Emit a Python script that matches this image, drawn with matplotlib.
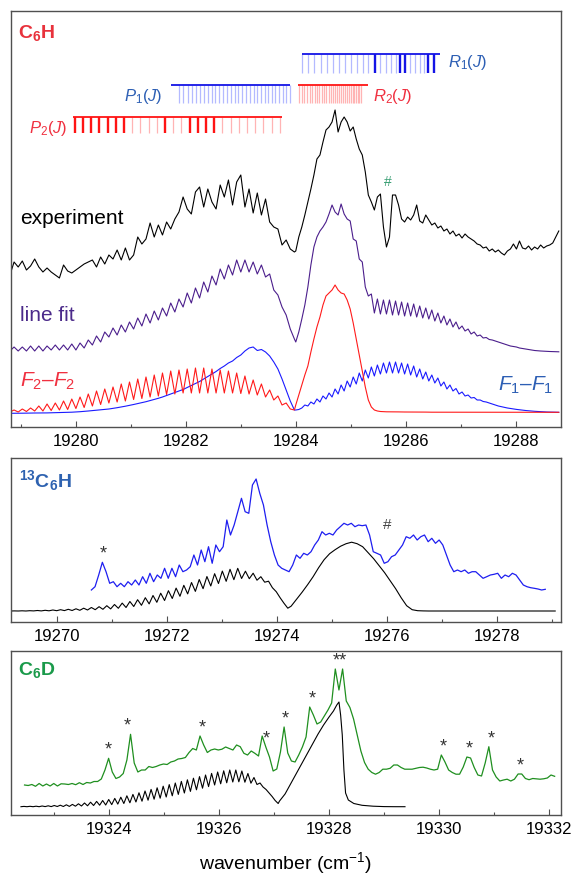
import numpy as np
import matplotlib.pyplot as plt
from matplotlib.ticker import MultipleLocator, FormatStrFormatter

plt.rcParams['font.family'] = ['Liberation Sans', 'DejaVu Sans']
plt.rcParams['mathtext.fontset'] = 'custom'
plt.rcParams['mathtext.rm'] = 'Liberation Sans'
plt.rcParams['mathtext.it'] = 'Liberation Sans:italic'
plt.rcParams['mathtext.bf'] = 'Liberation Sans:bold'

# ---------------- C6H panel (intensities in arbitrary units) ----------------
# sampling: P side every 0.075 cm-1, R side every 0.055 cm-1
c6h_wn = np.concatenate([19278.8 + 0.075 * np.arange(70), 19284.0 + 0.055 * np.arange(88)])

c6h_exp = [152, 165, 160, 166, 157, 161, 168, 160, 155, 159,
           155, 152, 149, 162, 156, 154, 157, 160, 163, 165,
           167, 160, 170, 163, 172, 168, 177, 167, 179, 167,
           172, 190, 183, 188, 204, 190, 202, 192, 205, 198,
           208, 215, 230, 218, 213, 235, 240, 220, 238, 225,
           218, 242, 230, 247, 222, 245, 252, 220, 238, 214,
           234, 212, 228, 205, 200, 198, 182, 187, 178, 175,
           176, 190, 200, 212, 225, 238, 252, 268, 272, 285,
           297, 300, 305, 317, 295, 305, 310, 305, 296, 300,
           288, 278, 272, 255, 232, 225, 217, 230, 233, 200,
           180, 190, 232, 232, 222, 208, 205, 210, 207, 212,
           222, 206, 204, 212, 207, 202, 204, 199, 201, 196,
           198, 193, 196, 191, 193, 189, 193, 190, 188, 186,
           183, 182, 179, 180, 176, 178, 175, 177, 174, 172,
           176, 178, 183, 178, 186, 179, 178, 181, 177, 180,
           178, 182, 179, 181, 182, 184, 190, 196]

c6h_fit = [76, 80, 76, 80, 76, 81, 76, 81, 76, 81,
           77, 82, 77, 82, 77, 83, 77, 84, 79, 87,
           82, 91, 85, 95, 90, 99, 92, 102, 95, 105,
           98, 109, 101, 113, 104, 116, 107, 119, 111, 124,
           115, 128, 120, 134, 124, 139, 129, 145, 135, 151,
           142, 158, 148, 162, 152, 167, 155, 167, 155, 165,
           153, 162, 150, 153, 137, 132, 120, 112, 98, 88,
           85, 95, 108, 122, 140, 162, 180, 190, 196, 200,
           205, 213, 222, 215, 212, 223, 213, 208, 206, 188,
           186, 168, 165, 140, 131, 133, 114, 128, 113, 127,
           113, 127, 112, 126, 112, 125, 111, 124, 111, 123,
           110, 121, 109, 119, 108, 117, 106, 114, 104, 111,
           102, 108, 100, 105, 98, 101, 96, 98, 93, 95,
           91, 92, 89, 89.5, 87.5, 87, 86, 85, 84, 83,
           82, 81, 80.5, 80, 79, 78.5, 78, 77.5, 77, 76.5,
           76.2, 76, 75.8, 75.6, 75.5, 75.4, 75.3, 75.2]

c6h_f2f2 = [15, 17, 15, 18, 15.5, 19, 16, 21, 16, 23,
            16.5, 24, 17, 26, 17.5, 28, 18.5, 30, 19.5, 33,
            21, 36, 22.5, 38, 24, 40, 25, 43, 26, 45,
            27.5, 48, 28.5, 50, 30, 52, 31, 54, 32.5, 56,
            33, 57, 34, 58, 34, 59, 34, 59, 34, 58,
            34, 57, 34, 56, 34, 54, 33.5, 51, 33, 47,
            32, 43, 30, 37, 27, 31, 22, 24, 18, 17,
            22, 32, 42, 52, 61, 75, 88, 100, 110, 122,
            131, 134, 137, 142, 137, 134, 133, 127, 118, 104,
            88, 72, 56, 40, 27, 20, 17, 16, 15.5, 15.3,
            15.2, 15.2, 15.1, 15.1, 15.1, 15.0, 15.0, 15.0, 15.0, 14.9,
            14.9, 14.9, 14.9, 14.9, 14.8, 14.8, 14.8, 14.8, 14.8, 14.8,
            14.8, 14.8, 14.8, 14.8, 14.8, 14.8, 14.8, 14.8, 14.8, 14.8,
            14.7, 14.7, 14.7, 14.7, 14.7, 14.7, 14.7, 14.7, 14.7, 14.7,
            14.7, 14.7, 14.7, 14.7, 14.7, 14.7, 14.7, 14.7, 14.7, 14.7,
            14.7, 14.7, 14.7, 14.7, 14.7, 14.7, 14.7, 14.7]

c6h_f1f1 = [13.7, 13.7, 13.8, 13.8, 13.9, 13.9, 14.0, 14.0, 14.1, 14.1,
            14.2, 14.3, 14.4, 14.5, 14.6, 14.8, 15.0, 15.3, 15.6, 16.0,
            16.4, 16.8, 17.2, 17.6, 18.0, 18.6, 19.3, 20.0, 20.8, 21.6,
            22.5, 23.4, 24.3, 25.3, 26.4, 27.5, 28.7, 30.0, 31.5, 33.0,
            34.5, 36.0, 37.5, 39.5, 41.5, 43.5, 45.5, 48, 50.5, 53,
            55.5, 58.5, 61, 64, 66, 69.5, 72, 76, 79, 80,
            76.5, 77.5, 75, 71, 65, 58, 48, 37, 26, 17,
            17, 17.5, 19, 22, 21, 25, 23, 28, 25, 31,
            28, 34, 30, 38, 33, 42, 36, 46, 40, 50,
            43, 54, 46, 57, 49, 60, 51, 62, 53, 64,
            54, 65, 54, 65, 54, 64, 53, 63, 52, 61,
            50, 58, 48, 55, 46, 52, 44, 49, 41, 45,
            38, 42, 36, 38.5, 33, 35, 31, 32, 29, 29.5,
            27, 27, 25.5, 25, 24, 23, 22, 21, 20.3, 19.7,
            19, 18.5, 18, 17.6, 17.2, 16.8, 16.5, 16.2, 16, 15.7,
            15.5, 15.3, 15.1, 15, 14.9, 14.8, 14.7, 14.7]

# line positions of the assigned branches (cm-1)
r1_lines = [19284.12, 19284.23, 19284.34, 19284.45, 19284.56, 19284.67, 19284.78,
            19284.89, 19285.00, 19285.11, 19285.22, 19285.32, 19285.44, 19285.54,
            19285.64, 19285.74, 19285.83, 19285.89, 19285.98, 19286.08, 19286.17,
            19286.26, 19286.34, 19286.41, 19286.52]
r1_strong = [12, 17, 18, 23, 24]
r2_lines = [19284.061, 19284.110, 19284.158, 19284.205, 19284.252, 19284.298,
            19284.343, 19284.387, 19284.431, 19284.474, 19284.516, 19284.558,
            19284.598, 19284.638, 19284.678, 19284.716, 19284.754, 19284.791,
            19284.827, 19284.864, 19284.898, 19284.933, 19284.967, 19285.000,
            19285.033, 19285.066, 19285.096, 19285.127, 19285.158, 19285.189]
p1_lines = [19281.881, 19281.956, 19282.031, 19282.105, 19282.178, 19282.251,
            19282.324, 19282.396, 19282.467, 19282.538, 19282.609, 19282.680,
            19282.751, 19282.820, 19282.889, 19282.958, 19283.028, 19283.097,
            19283.164, 19283.231, 19283.299, 19283.366, 19283.433, 19283.499,
            19283.564, 19283.630, 19283.695, 19283.761, 19283.826, 19283.892]
p2_lines = [19279.980, 19280.129, 19280.278, 19280.428, 19280.577, 19280.726,
            19280.875, 19281.024, 19281.174, 19281.323, 19281.472, 19281.621,
            19281.770, 19281.920, 19282.069, 19282.218, 19282.367, 19282.516,
            19282.666, 19282.815, 19282.964, 19283.113, 19283.262, 19283.412,
            19283.561, 19283.710]
p2_strong = [0, 1, 2, 3, 4, 5, 6, 11, 14, 15, 16, 17]

# ---------------- 13C6H panel ----------------
c13_fit_wn = np.concatenate([19269.15 + 0.07 * np.arange(73), 19274.25 + 0.1 * np.arange(49)])
c13_fit = [10.7, 10.8, 10.7, 10.9, 10.7, 11.0, 10.8, 11.2, 10.8, 11.4,
           10.9, 11.7, 11.0, 12.0, 11.1, 12.4, 11.2, 12.9, 11.4, 13.5,
           11.7, 14.2, 12.0, 15.0, 12.4, 16.0, 12.8, 17.2, 13.4, 18.6,
           14.2, 20.2, 15.2, 22.0, 16.4, 24.0, 17.8, 26.2, 19.4, 28.5,
           21.2, 31.0, 23.2, 33.6, 25.4, 36.4, 27.8, 39.2, 30.3, 42.2,
           33.0, 45.2, 35.7, 48.0, 38.2, 50.6, 40.4, 52.4, 42.0, 53.4,
           43.2, 50.5, 43.0, 48.5, 41.5, 45.0, 39.5, 40.5, 34.0, 30.0,
           24.0, 18.5, 13.5,
           15.5, 22.5, 29.5, 37, 45, 54, 62, 68, 72, 75.5,
           78, 79.5, 78, 75, 69, 63, 56, 49, 41, 33,
           24, 16, 12, 11, 10.8, 10.7, 10.7, 10.7, 10.7, 10.7,
           10.7, 10.7, 10.7, 10.7, 10.7, 10.7, 10.7, 10.7, 10.7, 10.7,
           10.7, 10.7, 10.7, 10.7, 10.7, 10.7, 10.7, 10.7, 10.7]

c13_exp_wn = np.linspace(19270.62, 19278.87, 125)
c13_exp = [31.7, 35, 46.7, 59.4, 50, 38.4, 40, 35, 38.4, 35,
           40, 36.7, 41.7, 36.7, 45, 38.4, 48.4, 40, 46.7, 43.4,
           53.4, 43.4, 53.4, 45, 56.7, 50, 51.7, 55, 66.7, 56.7,
           71.7, 60, 75, 58.4, 76.7, 70, 75, 101.7, 86.7, 96.7,
           110, 123.4, 110, 108.4, 136.7, 142.7, 128.4, 116.7, 96.7, 80,
           66.7, 56.7, 53.4, 51.7, 50, 56.7, 66.7, 63.4, 68.4, 66.7,
           70, 76.7, 81.7, 90, 86.7, 88.4, 86.7, 91.7, 95, 98.4,
           96.7, 98.4, 95, 96.7, 96, 96.7, 86.7, 70, 68.4, 66.7,
           58.4, 60, 65, 66.7, 71.7, 76.7, 85, 83.4, 86.7, 81.7,
           85, 86.7, 80, 83.4, 78.4, 81.7, 76.7, 66.7, 56.7, 50,
           51.7, 50, 51.7, 48.4, 50, 50, 46.7, 43.4, 45, 46.7,
           47.4, 48.4, 43.4, 46.7, 45, 48.4, 46.7, 41.7, 36.7, 35,
           34, 33.4, 32.7, 31.7, 32.4]

# ---------------- C6D panel ----------------
c6d_exp_wn = np.linspace(19322.465, 19332.10, 146)
c6d_exp = [30, 29.5, 30.5, 28.7, 31.5, 29, 31, 29, 31.5, 29,
           31.2, 31, 30.5, 31.5, 30.3, 32.3, 30.5, 32.5, 32, 33.5,
           33.5, 36, 45, 56.7, 43, 36.5, 38, 41.5, 55, 80.7,
           52, 43, 45, 45, 48.5, 47.5, 48.5, 50, 51, 50.5,
           53, 54, 56, 56.5, 57.5, 62.5, 66.5, 65, 79, 70,
           62.5, 65, 66, 65, 65.8, 68, 66.5, 65, 70, 68.3,
           61.7, 60, 64, 61.7, 59, 79, 68, 58, 44, 46,
           63, 88, 62, 54, 53, 60, 68, 78, 108, 100,
           91, 93, 99, 105, 112, 146, 125, 146, 114, 107.5,
           96, 80, 64, 52.5, 45.8, 42.5, 40.8, 42.5, 45.8, 45.8,
           46.7, 50, 50, 47.5, 45.8, 45.8, 45.8, 46.7, 47.5, 47.8,
           47, 45.8, 45, 45.8, 60, 53, 45, 42.5, 40.8, 40.8,
           48, 58, 57, 47.5, 40, 39, 52, 68.3, 45, 38,
           34, 35, 35.8, 34, 35.8, 41, 41, 36.5, 35.3, 36.5,
           36.2, 35.8, 36.2, 37, 40, 38.7]

c6d_fit_wn = np.concatenate([19322.4 + 0.055 * np.arange(86),
                             [19327.10, 19327.20, 19327.30, 19327.40, 19327.50, 19327.60,
                              19327.70, 19327.80, 19327.90, 19328.00, 19328.08, 19328.14,
                              19328.18, 19328.21, 19328.24, 19328.27, 19328.30, 19328.35,
                              19328.45, 19328.60, 19328.80, 19329.00, 19329.20, 19329.38]])
c6d_fit = [8.3, 8.6, 8.3, 8.7, 8.3, 8.8, 8.3, 9.0, 8.4, 9.2,
           8.4, 9.5, 8.5, 9.8, 8.5, 10.2, 8.6, 10.6, 8.8, 11.2,
           9.0, 12.0, 9.2, 12.8, 9.5, 13.6, 9.8, 14.5, 10.0, 15.5,
           10.4, 16.6, 10.9, 17.8, 11.5, 19.2, 12.2, 20.6, 13.0, 22.2,
           13.8, 24.0, 14.8, 25.6, 15.8, 27.2, 16.8, 28.8, 18.0, 30.4,
           19.2, 32.0, 20.6, 33.6, 22.0, 35.2, 23.6, 36.8, 25.2, 38.4,
           26.8, 40.0, 28.4, 41.6, 30.0, 43.0, 31.2, 44.2, 32.2, 45.0,
           33.0, 45.0, 33.2, 44.0, 32.8, 41.5, 31.8, 37.5, 30.5, 32.0,
           28.0, 25.5, 22.0, 18.5, 14.5, 11.5,
           14, 21, 31, 41, 51, 61, 71, 81, 90, 98, 104, 110,
           113, 100, 80, 45, 22, 15, 11.5, 9.7, 8.8, 8.4, 8.3, 8.3]

c6d_stars = [19323.98, 19324.34, 19325.69, 19326.86, 19327.21, 19327.69,
             19330.07, 19330.54, 19330.94, 19331.47]
c6d_double_star = 19328.20

# ---------------- figure ----------------
W, H = 574, 876
fig = plt.figure(figsize=(W / 100, H / 100), dpi=100)
SPINE = '#505050'
LW = 0.8


def panel(top, bottom):
    return fig.add_axes([10.5 / W, 1 - bottom / H, 550.2 / W, (bottom - top) / H])


def style(ax, xlim, ylim):
    ax.set_xlim(*xlim)
    ax.set_ylim(*ylim)
    ax.set_yticks([])
    ax.xaxis.set_major_locator(MultipleLocator(2))
    ax.xaxis.set_minor_locator(MultipleLocator(1))
    ax.xaxis.set_major_formatter(FormatStrFormatter('%d'))
    ax.tick_params(axis='x', which='major', direction='in', length=4.2, width=0.8,
                   color=SPINE, labelsize=12, pad=5)
    ax.tick_params(axis='x', which='minor', direction='in', length=2.3, width=0.8, color=SPINE)
    for s in ax.spines.values():
        s.set_color(SPINE)
        s.set_linewidth(1.0)


def peak_near(wn, vals, x0, half=0.07):
    wn = np.asarray(wn)
    vals = np.asarray(vals)
    m = np.abs(wn - x0) <= half
    return vals[m].max()


# ----- panel 1 : C6H -----
ax1 = panel(11, 427)
style(ax1, (19278.81, 19288.82), (0, 416))
ax1.plot(c6h_wn, c6h_f1f1, color='#1a1aff', lw=LW)
ax1.plot(c6h_wn, c6h_f2f2, color='#ff1a1a', lw=LW)
ax1.plot(c6h_wn, c6h_fit, color='#4b1e8c', lw=LW)
ax1.plot(c6h_wn, c6h_exp, color='black', lw=LW)

blue_d, blue_l = '#1414e6', '#b4baff'
red_d, red_l = '#ff1414', '#ffb4b4'
r1 = np.array(r1_lines)
s1 = np.isin(np.arange(len(r1)), r1_strong)
ax1.vlines(r1[~s1], 353.7, 372.7, color=blue_l, lw=0.9)
ax1.vlines(r1[s1], 353.7, 372.7, color=blue_d, lw=1.7)
ax1.hlines(372.7, 19284.105, 19286.62, color=blue_d, lw=1.3)

ax1.vlines(r2_lines, 323.7, 342, color=red_l, lw=0.9)
ax1.hlines(342, 19284.043, 19285.317, color=red_d, lw=1.3)

ax1.vlines(p1_lines, 323.7, 342, color=blue_l, lw=0.9)
ax1.hlines(342, 19281.739, 19283.892, color=blue_d, lw=1.3)

p2 = np.array(p2_lines)
s2 = np.isin(np.arange(len(p2)), p2_strong)
ax1.vlines(p2[~s2], 293.7, 310.3, color=red_l, lw=0.9)
ax1.vlines(p2[s2], 293.7, 310.3, color=red_d, lw=1.7)
ax1.hlines(310.3, 19279.938, 19283.741, color=red_d, lw=1.3)

lab_b, lab_r = '#2d5fb4', '#f03040'
ax1.text(19286.77, 364, r'$R_1(J)$', color=lab_b, fontsize=12, ha='left', va='center')
ax1.text(19285.41, 331, r'$R_2(J)$', color=lab_r, fontsize=12, ha='left', va='center')
ax1.text(19281.58, 331, r'$P_1(J)$', color=lab_b, fontsize=12, ha='right', va='center')
ax1.text(19279.85, 299, r'$P_2(J)$', color=lab_r, fontsize=12, ha='right', va='center')

ax1.text(0.014, 0.936, r'$\mathbf{C_6H}$', transform=ax1.transAxes, color='#e8323c',
         fontsize=14, ha='left', va='baseline')
ax1.text(0.017, 0.50, 'experiment', transform=ax1.transAxes, fontsize=15, ha='left', va='center')
ax1.text(0.017, 0.269, 'line fit', transform=ax1.transAxes, fontsize=15, color='#4b2a8a',
         ha='left', va='center')
ax1.text(0.017, 0.11, r'$F_2$–$F_2$', transform=ax1.transAxes, fontsize=15, color=lab_r,
         ha='left', va='center')
ax1.text(0.987, 0.10, r'$F_1$–$F_1$', transform=ax1.transAxes, fontsize=15, color=lab_b,
         ha='right', va='center')
ax1.text(19285.67, 245, '#', color='#3a9f74', fontsize=10, ha='center', va='center')

# ----- panel 2 : 13C6H -----
ax2 = panel(458, 621.7)
style(ax2, (19269.15, 19279.15), (0, 163.7))
ax2.plot(c13_fit_wn, c13_fit, color='black', lw=LW)
ax2.plot(c13_exp_wn, c13_exp, color='#1e1ef0', lw=0.9)
ax2.text(0.016, 0.825, r'$\mathbf{^{13}C_6H}$', transform=ax2.transAxes, color='#2e62b0',
         fontsize=14, ha='left', va='baseline')
ax2.text(19270.83, peak_near(c13_exp_wn, c13_exp, 19270.83) + 8, '*', color='#333333',
         fontsize=13, ha='center', va='center')
ax2.text(19276.0, 96.7, '#', color='#444444', fontsize=11, ha='center', va='center')

# ----- panel 3 : C6D -----
ax3 = panel(651, 815)
style(ax3, (19322.21, 19332.21), (0, 164))
ax3.plot(c6d_fit_wn, c6d_fit, color='black', lw=LW)
ax3.plot(c6d_exp_wn, c6d_exp, color='#1f8f1f', lw=0.9)
ax3.text(0.014, 0.854, r'$\mathbf{C_6D}$', transform=ax3.transAxes, color='#1a9a4a',
         fontsize=14, ha='left', va='baseline')
for xs in c6d_stars:
    ax3.text(xs, peak_near(c6d_exp_wn, c6d_exp, xs) + 8, '*', color='#333333',
             fontsize=13, ha='center', va='center')
ax3.text(c6d_double_star, peak_near(c6d_exp_wn, c6d_exp, c6d_double_star, 0.1) + 8, '**',
         color='#333333', fontsize=13, ha='center', va='center')

fig.text(285.6 / W, 1 - 863 / H, r'wavenumber (cm$^{-1}$)', fontsize=14, ha='center', va='center')

fig.savefig('out.png', dpi=100)
